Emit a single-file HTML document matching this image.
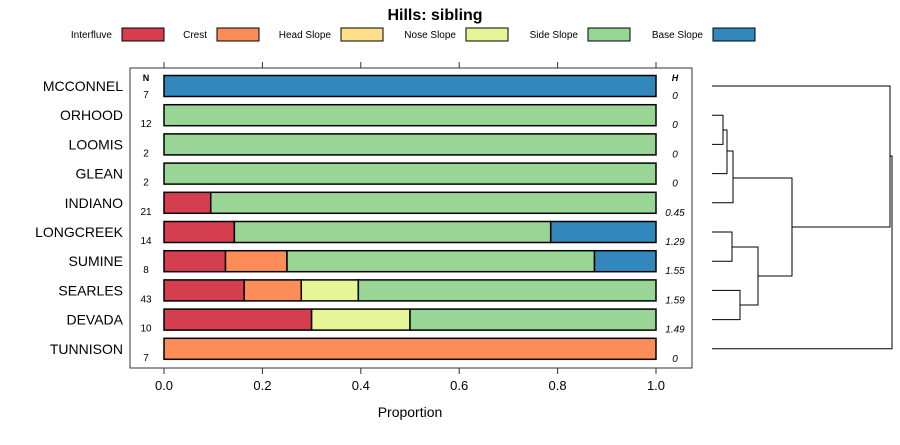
<!DOCTYPE html>
<html><head><meta charset="utf-8"><style>
body{margin:0;background:#fff;font-family:"Liberation Sans",sans-serif}
</style></head><body>
<svg id="c" width="900" height="440" xmlns="http://www.w3.org/2000/svg" font-family="Liberation Sans, sans-serif">
<text x="435" y="20" text-anchor="middle" font-size="16" font-weight="bold">Hills: sibling</text>
<rect x="130" y="68" width="562" height="300" fill="none" stroke="#333"/>
<text x="146" y="81" font-size="9" font-weight="bold" text-anchor="middle">N</text>
<text x="675" y="81" font-size="9" font-weight="bold" font-style="italic" text-anchor="middle">H</text>
<text x="410" y="417" font-size="14" text-anchor="middle">Proportion</text>
<g id="legend"></g><g id="bars"></g><g id="axis"></g><g id="dendro" stroke="#000" fill="none" stroke-width="1"></g>
</svg>
<script>
const classes=["Interfluve","Crest","Head Slope","Nose Slope","Side Slope","Base Slope"];
const colors=["#d53e4f","#fc8d59","#fee08b","#e6f598","#99d594","#3288bd"];
const hills=["MCCONNEL","ORHOOD","LOOMIS","GLEAN","INDIANO","LONGCREEK","SUMINE","SEARLES","DEVADA","TUNNISON"];
const nVals=[7,12,2,2,21,14,8,43,10,7];
const hVals=["0","0","0","0","0.45","1.29","1.55","1.59","1.49","0"];
const props=[
[0,0,0,0,0,1],[0,0,0,0,1,0],[0,0,0,0,1,0],[0,0,0,0,1,0],
[0.095,0,0,0,0.905,0],[0.143,0,0,0,0.643,0.214],[0.125,0.125,0,0,0.625,0.125],
[0.163,0.116,0,0.116,0.605,0],[0.3,0,0,0.2,0.5,0],[0,1,0,0,0,0]];
const ticks=[0,0.2,0.4,0.6,0.8,1.0];
const NS="http://www.w3.org/2000/svg";
const X=v=>164+v*492, Y=i=>86+i*29.2;
function mk(p,t,a){const e=document.createElementNS(NS,t);for(const k in a)e.setAttribute(k,a[k]);p.appendChild(e);return e;}
const leg=document.getElementById('legend');
const lx=[112,207,331,456,578,703];
classes.forEach((c,i)=>{
 const t=mk(leg,'text',{x:lx[i],y:38,'font-size':10,'text-anchor':'end'});t.textContent=c;
 
 
 const r=mk(leg,'rect',{x:lx[i]+10,y:28,width:42,height:13,fill:colors[i],stroke:'#000'});
 
 
});
const bars=document.getElementById('bars');
hills.forEach((h,i)=>{
 const y=Y(i);
 const l=mk(bars,'text',{x:123,y:y+5,'font-size':14,'text-anchor':'end'});l.textContent=h;
 
 
 const n=mk(bars,'text',{x:146,y:y+12,'font-size':10,'text-anchor':'middle'});n.textContent=nVals[i];
 
 
 const hv=mk(bars,'text',{x:675,y:y+13,'font-size':10,'font-style':'italic','text-anchor':'middle'});hv.textContent=hVals[i];
 
 
 let c=0;
 props[i].forEach((p,k)=>{ if(p<=0)return;
  const r=mk(bars,'rect',{x:X(c),y:y-10.5,width:X(c+p)-X(c),height:21,fill:colors[k],stroke:'#000','stroke-width':1.5});
  
  
  c+=p;});
});
const ax=document.getElementById('axis');
ticks.forEach(t=>{
 mk(ax,'line',{x1:X(t),x2:X(t),y1:368,y2:374,stroke:'#333'});
 mk(ax,'line',{x1:X(t),x2:X(t),y1:62,y2:68,stroke:'#333'});
 const tl=mk(ax,'text',{x:X(t),y:390,'font-size':13,'text-anchor':'middle'});tl.textContent=t.toFixed(1);
 
 
});
const d=document.getElementById('dendro');


const L=712;
function link(x,y1,y2,xa,xb){mk(d,'path',{d:`M${xa} ${y1}H${x}V${y2}H${xb}`});}
link(723,Y(1),Y(2),L,L);
link(727,130,Y(3),723,L);
link(733,151,Y(4),727,L);
link(732,Y(5),Y(6),L,L);
link(740,Y(7),Y(8),L,L);
link(758,247,305,732,740);
link(792,178,276,733,758);
link(890,Y(0),227,L,792);
link(892,156,Y(9),890,L);
</script>
</body></html>
